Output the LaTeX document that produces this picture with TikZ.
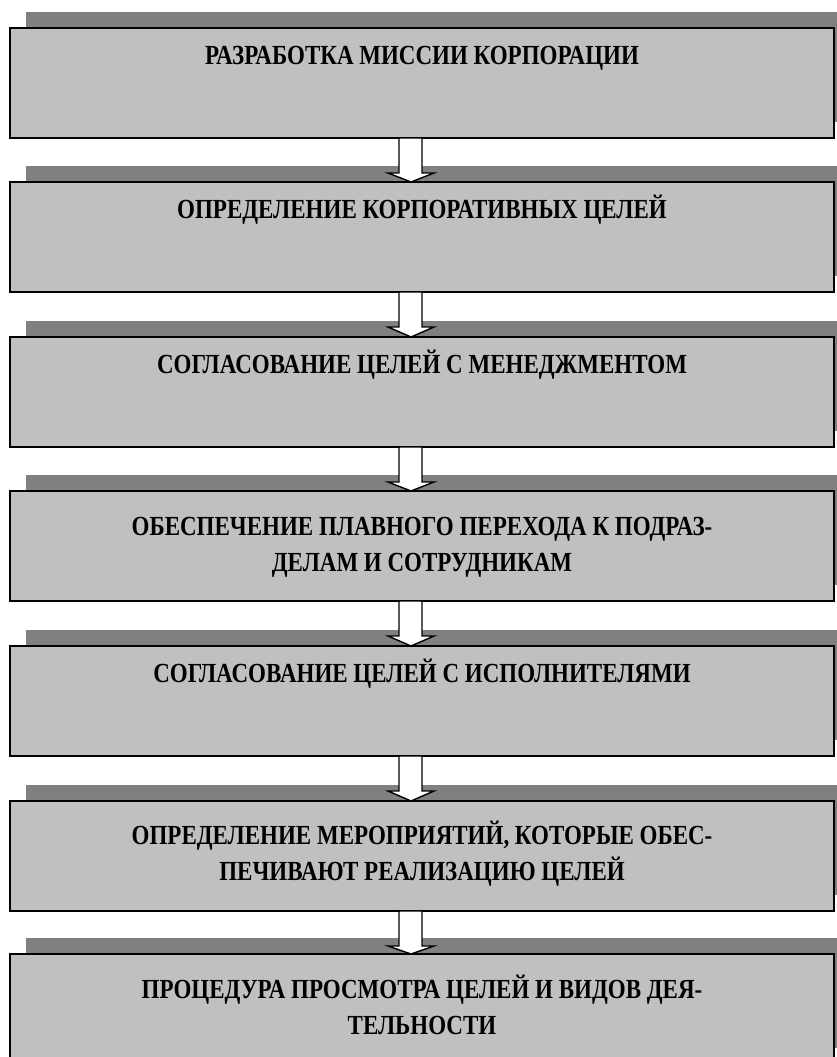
\documentclass[tikz,border=0pt]{standalone}
\usepackage{fontspec}
\setmainfont{Liberation Serif}
\usetikzlibrary{shadows,calc}
\definecolor{boxgray}{HTML}{C0C0C0}
\definecolor{shadegray}{HTML}{808080}
\tikzset{
  stagebox/.style={draw=black, line width=2pt, fill=boxgray, outer sep=0pt,
    minimum width=824pt, minimum height=110pt, inner sep=0pt,
    general shadow={fill=shadegray, shadow xshift=16pt, shadow yshift=16pt}},
  stagetext/.style={font=\bfseries\fontsize{23}{30}\selectfont, align=center,
    inner sep=0pt, anchor=base, yscale=1.2, transform shape},
  flowarrow/.style={draw=black, line width=1.4pt, fill=white, line join=miter}
}
% hollow block arrow from the bottom of one stage to the top of the next
\newcommand{\stagearrow}[2]{%
  \path[flowarrow] ($(#1.south)+(-23pt,0)$) -- ($(#1.south)+(-23pt,-35pt)$)
    -- ($(#1.south)+(-34pt,-35pt)$) -- ($(#2.north)+(-11pt,0)$)
    -- ($(#1.south)+(12pt,-35pt)$) -- ($(#1.south)+(0pt,-35pt)$)
    -- ($(#1.south)+(0pt,0)$) -- cycle;}
\begin{document}
\begin{tikzpicture}[x=1pt,y=1pt]
\useasboundingbox (0,0) rectangle (837,-1057);
\clip (0,0) rectangle (837,-1057);
\node[stagebox] (s1) at (422,-83) {};
\node[stagebox] (s2) at (422,-237) {};
\node[stagebox] (s3) at (422,-392) {};
\node[stagebox] (s4) at (422,-546) {};
\node[stagebox] (s5) at (422,-701) {};
\node[stagebox] (s6) at (422,-856) {};
\node[stagebox] (s7) at (422,-1009) {};
\node[stagetext] (t1) at (422,-64) {РАЗРАБОТКА МИССИИ КОРПОРАЦИИ};
\node[stagetext] (t2) at (422,-218) {ОПРЕДЕЛЕНИЕ КОРПОРАТИВНЫХ ЦЕЛЕЙ};
\node[stagetext] (t3) at (422,-373) {СОГЛАСОВАНИЕ ЦЕЛЕЙ С МЕНЕДЖМЕНТОМ};
\node[stagetext] (t4) at (422,-571) {ОБЕСПЕЧЕНИЕ ПЛАВНОГО ПЕРЕХОДА К ПОДРАЗ-\\ДЕЛАМ И СОТРУДНИКАМ};
\node[stagetext] (t5) at (422,-682) {СОГЛАСОВАНИЕ ЦЕЛЕЙ С ИСПОЛНИТЕЛЯМИ};
\node[stagetext] (t6) at (422,-880) {ОПРЕДЕЛЕНИЕ МЕРОПРИЯТИЙ, КОТОРЫЕ ОБЕС-\\ПЕЧИВАЮТ РЕАЛИЗАЦИЮ ЦЕЛЕЙ};
\node[stagetext] (t7) at (422,-1034) {ПРОЦЕДУРА ПРОСМОТРА ЦЕЛЕЙ И ВИДОВ ДЕЯ-\\ТЕЛЬНОСТИ};
\stagearrow{s1}{s2}
\stagearrow{s2}{s3}
\stagearrow{s3}{s4}
\stagearrow{s4}{s5}
\stagearrow{s5}{s6}
\stagearrow{s6}{s7}
\end{tikzpicture}
\end{document}
